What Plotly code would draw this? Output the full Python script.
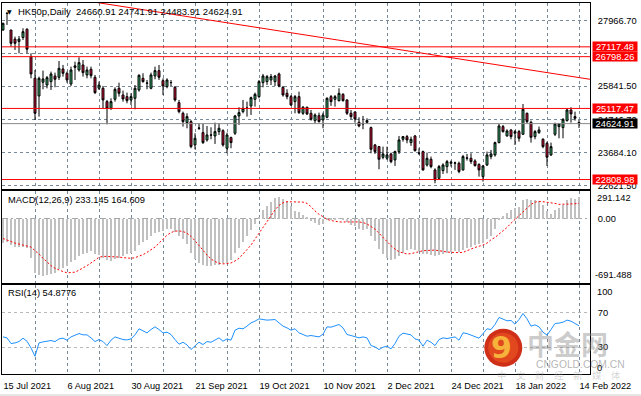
import plotly.graph_objects as go
from plotly.subplots import make_subplots

# ---------------- data ----------------
symbol = "HK50p,Daily"
date_labels = ["15 Jul 2021", "6 Aug 2021", "30 Aug 2021", "21 Sep 2021", "19 Oct 2021",
               "10 Nov 2021", "2 Dec 2021", "24 Dec 2021", "18 Jan 2022", "14 Feb 2022"]

opens = [27665, 28200, 27665, 27370, 27290, 27420, 27690, 26800, 26096, 25522,
         25967, 25880, 25987, 26172, 26129, 26399, 26259, 25912, 26450, 26367,
         26529, 26205, 26389, 26129, 25772, 25772, 25339, 25121, 25414, 25772,
         25555, 25501, 25393, 25447, 25718, 26096, 25934, 25772, 26172, 26345,
         26020, 25826, 25955, 25804, 25306, 24960, 24657, 24690, 23932, 24470,
         24333, 24095, 24250, 24224, 24365, 24397, 23824, 24170, 24311, 24874,
         25014, 25121, 25198, 25414, 25501, 25955, 25988, 26042, 25988, 26237,
         25804, 25609, 25501, 25339, 25501, 24960, 25155, 24960, 24722, 24884,
         24744, 24830, 25501, 25414, 25371, 25577, 25393, 24960, 25003, 24668,
         24614, 24668, 24495, 23932, 23878, 23532, 23500, 23640, 23445, 23716,
         24116, 24203, 24008, 24224, 23662, 23716, 23283, 23467, 23121, 22850,
         23099, 23229, 23337, 23337, 23337, 23121, 23500, 23500, 23413, 23300,
         22904, 23283, 23554, 23608, 24008, 24528, 24224, 24419, 24311, 24365,
         24279, 24960, 24668, 24203, 24333, 24116, 23986, 23608, 24279, 24528,
         24495, 24722, 25068, 24852, 24660.91]
highs = [27900, 28220, 27665, 27449, 27470, 27720, 27720, 26908, 26367, 26150,
         26345, 26172, 26313, 26280, 26658, 26530, 26313, 26475, 26637, 26778,
         26691, 26475, 26475, 26205, 25988, 25847, 25393, 25447, 25804, 25955,
         25696, 25631, 25609, 25880, 26226, 26259, 26042, 26280, 26475, 26529,
         26096, 26096, 26042, 25847, 25393, 25014, 24960, 24744, 24311, 24636,
         24614, 24549, 24506, 24657, 24636, 24441, 24333, 24203, 24906, 25155,
         25393, 25339, 25501, 25631, 26042, 26237, 26205, 26237, 26205, 26280,
         25847, 25739, 25555, 25555, 25663, 25198, 25177, 25068, 24960, 24982,
         24982, 25479, 25555, 25555, 25771, 25609, 25414, 25068, 25014, 24830,
         24874, 24798, 24528, 23965, 23900, 23878, 23878, 23683, 23748, 24224,
         24224, 24257, 24203, 24257, 23824, 23748, 23683, 23554, 23175, 23283,
         23337, 23445, 23424, 23391, 23391, 23608, 23640, 23662, 23467, 23337,
         23283, 23716, 23770, 24040, 24614, 24582, 24441, 24441, 24419, 24419,
         25263, 24982, 24722, 24419, 24528, 24149, 24040, 24008, 24657, 24636,
         24798, 25121, 25155, 25014, 24741.91]
lows = [27640, 27830, 27124, 27016, 26908, 27340, 26908, 26095, 24744, 24852,
        25740, 25770, 25718, 25805, 26042, 26150, 25955, 25847, 26042, 26313,
        26150, 26096, 26096, 25587, 25718, 25121, 24603, 25068, 25339, 25501,
        25339, 25285, 25230, 25090, 25663, 25955, 25739, 25739, 26064, 26042,
        25555, 25772, 25847, 25339, 24960, 24528, 24473, 23824, 23792, 24419,
        23965, 24040, 24116, 23965, 24257, 23878, 23662, 23824, 24257, 24582,
        24960, 24852, 24906, 25177, 25447, 25804, 25880, 25880, 25847, 25804,
        25501, 25414, 25198, 24960, 24939, 24906, 24906, 24722, 24636, 24657,
        24473, 24798, 25198, 25177, 25339, 25339, 24906, 24765, 24657, 24506,
        24441, 24614, 23662, 23640, 23142, 23467, 23445, 23337, 23250, 23640,
        24040, 23986, 23900, 23716, 23608, 23099, 23229, 23175, 22688, 22796,
        22991, 23013, 23229, 23121, 23013, 23099, 23424, 23315, 23229, 22904,
        22742, 23250, 23467, 23554, 23986, 24333, 24203, 24116, 23932, 24040,
        24257, 24636, 24008, 24116, 24290, 23824, 23250, 23575, 24224, 24149,
        24149, 24690, 24657, 24722, 24483.91]
closes = [27882, 28210, 27232, 27232, 27370, 27610, 27040, 26237, 24960, 26096,
          26075, 26118, 26237, 26064, 26420, 26259, 26042, 26367, 26500, 26605,
          26280, 26367, 26183, 25630, 25880, 25393, 25121, 25339, 25739, 25609,
          25425, 25371, 25501, 25772, 26194, 25988, 25940, 26205, 26345, 26129,
          25847, 26042, 25960, 25393, 25014, 24690, 24852, 23878, 24149, 24480,
          24008, 24257, 24257, 24365, 24474, 23932, 24257, 24008, 24874, 24982,
          25121, 25130, 25468, 25577, 25988, 26172, 26150, 26150, 26172, 25847,
          25555, 25501, 25230, 25501, 24982, 25155, 24939, 24765, 24906, 24690,
          24906, 25447, 25339, 25501, 25609, 25371, 24960, 24852, 24776, 24549,
          24620, 24722, 23792, 23716, 23467, 23640, 23608, 23391, 23716, 24095,
          24203, 24095, 24116, 23748, 23668, 23121, 23500, 23229, 22796, 23229,
          23283, 23391, 23370, 23350, 23067, 23554, 23510, 23391, 23261, 23121,
          23250, 23608, 23640, 24008, 24549, 24365, 24387, 24203, 24365, 24149,
          25090, 24690, 24181, 24365, 24419, 23878, 23532, 23878, 24614, 24614,
          24765, 25068, 24939, 24800, 24624.91]

macd_main = [-272, -257, -293, -308, -311, -308, -322, -427, -597, -619,
             -626, -619, -605, -597, -547, -536, -518, -474, -453, -409,
             -391, -373, -358, -391, -402, -427, -453, -460, -438, -427,
             -409, -391, -373, -355, -293, -257, -235, -192, -163, -148,
             -138, -119, -119, -148, -185, -228, -282, -373, -438, -489,
             -510, -518, -518, -510, -503, -489, -481, -453, -373, -319,
             -257, -192, -127, -54, 7, 98, 141, 177, 224, 232,
             214, 188, 134, 80, 69, 43, 7, -29, -47, -65,
             -54, -11, -11, -11, -4, -11, -40, -65, -83, -112,
             -127, -119, -185, -246, -329, -391, -427, -453, -438, -409,
             -373, -344, -329, -344, -355, -391, -391, -402, -409, -402,
             -391, -373, -366, -358, -366, -344, -322, -308, -293, -282,
             -264, -228, -192, -119, -11, 33, 62, 91, 116, 127,
             199, 214, 206, 199, 188, 152, 80, 54, 91, 116,
             152, 199, 224, 214, 233.145]
macd_signal = [-221, -239, -257, -272, -282, -293, -300, -315, -355, -391,
               -438, -481, -518, -547, -568, -583, -597, -597, -590, -568,
               -547, -518, -489, -460, -427, -416, -416, -416, -420, -424,
               -431, -434, -438, -431, -416, -398, -373, -348, -315, -272,
               -228, -185, -156, -141, -138, -145, -163, -199, -246, -300,
               -355, -402, -445, -474, -492, -499, -496, -489, -467, -438,
               -391, -344, -293, -228, -163, -91, -29, 33, 91, 141,
               170, 181, 181, 181, 181, 177, 163, 127, 80, 43,
               18, -11, -25, -36, -40, -40, -40, -36, -36, -40,
               -47, -62, -91, -119, -163, -210, -257, -300, -337, -366,
               -380, -391, -387, -380, -366, -355, -351, -348, -348, -355,
               -358, -369, -373, -376, -376, -373, -358, -337, -319, -308,
               -293, -272, -235, -210, -174, -138, -101, -54, -11, 33,
               69, 112, 152, 177, 185, 181, 177, 170, 163, 152,
               152, 152, 156, 159, 164.609]
rsi = [42.0, 40.9, 34.3, 35.0, 36.6, 40.5, 37.0, 29.2, 19.5, 35.0,
       36.2, 37.0, 37.8, 36.6, 39.7, 40.5, 38.2, 42.0, 43.6, 45.9,
       44.4, 44.4, 40.9, 36.6, 38.9, 36.6, 31.9, 38.2, 42.0, 40.5,
       38.9, 38.5, 39.7, 44.4, 51.4, 49.0, 46.7, 50.6, 53.7, 50.6,
       46.7, 47.5, 44.8, 38.9, 33.5, 35.8, 32.7, 27.3, 31.9, 35.8,
       33.1, 36.6, 35.8, 38.2, 40.9, 37.0, 39.7, 38.2, 49.8, 52.1,
       51.4, 54.5, 58.3, 60.3, 63.0, 62.2, 61.5, 61.8, 62.2, 58.3,
       54.5, 52.5, 49.8, 51.4, 46.7, 44.8, 42.8, 43.6, 42.8, 42.0,
       45.1, 53.7, 53.3, 54.5, 56.4, 52.5, 44.8, 43.6, 42.0, 40.9,
       42.0, 40.9, 31.9, 30.4, 27.3, 30.0, 31.2, 28.1, 34.3, 42.8,
       46.3, 45.5, 44.4, 39.7, 38.2, 31.2, 38.2, 35.8, 31.9, 38.9,
       40.9, 40.1, 40.9, 42.0, 38.2, 46.7, 45.9, 44.4, 42.8, 40.5,
       45.9, 51.4, 50.6, 56.4, 64.6, 62.2, 60.7, 61.1, 56.8, 62.2,
       69.2, 63.0, 54.5, 56.0, 53.7, 47.5, 44.0, 50.6, 57.6, 58.0,
       59.1, 61.5, 60.3, 57.6, 54.8776]

level_lines = [27117.48, 26798.26, 25117.47, 22808.98]
price_ticks = [27966.70, 26904.10, 25841.50, 24762.80, 23684.10, 22621.50]
price_ticktext = ["27966.70", "", "25841.50", "24746.70", "23684.10", "22621.50"]
trend_x = [20, 146.75]
trend_y = [28627, 26064]
macd_extremes = [291.142, -691.488]
rsi_levels = [30, 70]

# ---------------- figure ----------------
FONT = "Liberation Sans"
GRID = "#778899"
n = len(closes)
idx = list(range(n))

W, H = 641, 396
ML, MR, MT, MB = 2, 51, 3, 22
PW, PH = W - ML - MR, H - MT - MB


def px_x(X):
    return (X - ML) / PW


def px_y(Y):
    return (H - MB - Y) / PH


fig = make_subplots(rows=3, cols=1, shared_xaxes=True)

fig.add_trace(go.Candlestick(
    x=idx, open=opens, high=highs, low=lows, close=closes,
    increasing=dict(line=dict(color="black", width=1), fillcolor="#3cb371"),
    decreasing=dict(line=dict(color="black", width=1), fillcolor="#dc143c"),
    whiskerwidth=0, hoverinfo="skip"), row=1, col=1)

fig.add_trace(go.Scatter(x=trend_x, y=trend_y, mode="lines",
                         line=dict(color="red", width=1), hoverinfo="skip"), row=1, col=1)

fig.add_trace(go.Bar(x=idx, y=macd_main, width=0.3, marker=dict(color="#c0c0c0", line=dict(width=0)),
                     hoverinfo="skip"), row=2, col=1)
fig.add_trace(go.Scatter(x=idx, y=macd_signal, mode="lines",
                         line=dict(color="red", width=1, dash="2px,2px"), hoverinfo="skip"), row=2, col=1)

fig.add_trace(go.Scatter(x=idx, y=rsi, mode="lines",
                         line=dict(color="#1e90ff", width=1), hoverinfo="skip"), row=3, col=1)

for lv in level_lines:
    fig.add_hline(y=lv, line=dict(color="red", width=1), row=1, col=1)
fig.add_hline(y=closes[-1], line=dict(color="#8a8a8a", width=1), row=1, col=1)

xt = list(range(0, n, 8))
xtext = [date_labels[k // 16] if k % 16 == 0 else "" for k in xt]
axis_common = dict(showline=True, mirror=True, linecolor="black", linewidth=1,
                   zeroline=False, ticks="")
for r in (1, 2, 3):
    fig.update_xaxes(range=[-0.25, 146.75], tickvals=xt, ticktext=xtext,
                     showgrid=True, gridcolor=GRID, griddash="3px,3px", gridwidth=1,
                     showticklabels=(r == 3), rangeslider_visible=False,
                     row=r, col=1, **axis_common)
fig.update_xaxes(ticklabelposition="outside right", tickfont=dict(size=9.2, family=FONT),
                 ticklabelstandoff=3, row=3, col=1)

fig.update_yaxes(domain=[0.5, 1.0], range=[22518, 28541], side="right",
                 tickvals=price_ticks, ticktext=price_ticktext,
                 showgrid=True, gridcolor=GRID, griddash="3px,3px",
                 ticklabelstandoff=5, tickfont=dict(size=9.3, family=FONT),
                 row=1, col=1, **axis_common)
fig.update_yaxes(domain=[0.2461, 0.4941], range=[-705, 302], side="right",
                 tickvals=[0], ticktext=["0.00"],
                 showgrid=True, gridcolor="#a8a8a8", griddash="6px,3px,2px,3px",
                 ticklabelstandoff=5, tickfont=dict(size=9.3, family=FONT),
                 row=2, col=1, **axis_common)
fig.update_yaxes(domain=[0.0, 0.2407], range=[-1.1, 102.65], side="right",
                 tickvals=rsi_levels, ticktext=[str(v) for v in rsi_levels],
                 showgrid=True, gridcolor="#b8b8b8", griddash="3px,3px",
                 ticklabelstandoff=5, tickfont=dict(size=9.3, family=FONT),
                 row=3, col=1, **axis_common)


def note(x, y, text, size=9.3, color="black", family=FONT, xanchor="left", **kw):
    d = dict(x=x, xref="paper", y=y, yref="paper", text=text, showarrow=False,
             xanchor=xanchor, yanchor="middle", font=dict(size=size, color=color, family=family))
    d.update(kw)
    return d


ann = []
# price boxes on the right axis
for lv in level_lines:
    ann.append(dict(x=1, xref="paper", xanchor="left", xshift=1.5, y=lv, yref="y",
                    yanchor="middle", text=f"{lv:.2f}", showarrow=False, bgcolor="#ff0000",
                    font=dict(color="white", size=9.3, family=FONT), width=44, height=9,
                    borderpad=0, align="center"))
ann.append(dict(x=1, xref="paper", xanchor="left", xshift=1.5, y=closes[-1], yref="y",
                yanchor="middle", text=f"{closes[-1]:.2f}", showarrow=False, bgcolor="black",
                font=dict(color="white", size=9.3, family=FONT), width=44, height=9,
                borderpad=0, align="center"))
# MACD / RSI extreme labels
ann.append(note(1, px_y(197.7), f"{macd_extremes[0]:.3f}", xshift=5))
ann.append(note(1, px_y(275.3), f"{macd_extremes[1]:.3f}", xshift=3))
ann.append(note(1, px_y(292.0), "100", xshift=5))
ann.append(note(1, px_y(367.7), "0", xshift=5))
# panel titles
ann.append(note(px_x(5), px_y(11), "▼", size=6, family="DejaVu Sans"))
ann.append(note(px_x(16), px_y(11),
                f"{symbol}  {opens[-1]:.2f} {highs[-1]:.2f} {lows[-1]:.2f} {closes[-1]:.2f}", size=9.5))
ann.append(note(px_x(6), px_y(200), f"MACD(12,26,9) {macd_main[-1]:.3f} {macd_signal[-1]:.3f}"))
ann.append(note(px_x(6), px_y(293.3), f"RSI(14) {rsi[-1]:.4f}"))
# watermark
ann.append(note(px_x(502), px_y(347), "<b>9</b>", size=30, color="#f6b23a",
                family="DejaVu Sans", xanchor="center"))
ann.append(note(px_x(567.5), px_y(343.5), "<b>中金网</b>", size=27, color="rgba(140,140,140,0.45)",
                family="Noto Sans CJK SC", xanchor="center"))
ann.append(note(px_x(580.5), px_y(364), "CNGOLD.COM.CN", size=10.3, color="rgba(120,120,120,0.55)",
                xanchor="center"))
ann.append(note(px_x(559), px_y(375), "中　文　财　经　新　媒　体", size=9.5,
                color="rgba(160,160,160,0.45)", family="Noto Sans CJK SC", xanchor="center"))

shapes = [
    dict(type="circle", xref="paper", yref="paper", layer="above",
         x0=px_x(484.3), x1=px_x(522.3), y0=px_y(366.7), y1=px_y(328.7),
         fillcolor="#cf2e17", line=dict(width=0)),
    dict(type="circle", xref="paper", yref="paper", layer="above",
         x0=px_x(488.3), x1=px_x(518.3), y0=px_y(362.7), y1=px_y(332.7),
         fillcolor="#e2481e", line=dict(width=0)),
    dict(type="rect", xref="paper", yref="paper", layer="above",
         x0=px_x(0), x1=px_x(641), y0=px_y(396), y1=px_y(394),
         fillcolor="#e6e6e6", line=dict(width=0)),
]

fig.update_layout(width=W, height=H, margin=dict(l=ML, r=MR, t=MT, b=MB),
                  paper_bgcolor="white", plot_bgcolor="white", showlegend=False,
                  font=dict(family=FONT, size=9.3, color="black"),
                  annotations=list(fig.layout.annotations) + ann,
                  shapes=list(fig.layout.shapes) + shapes, bargap=0)

fig.write_html("out.html", config={"displayModeBar": False},
               post_script="document.body.style.margin='0';")
